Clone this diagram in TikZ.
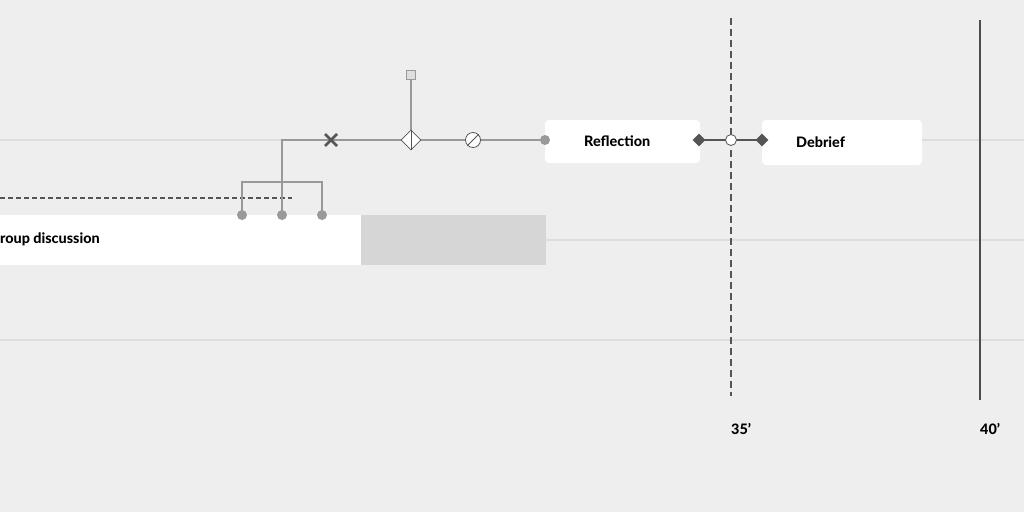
\documentclass[tikz,border=0pt]{standalone}
\usepackage{fontspec}
\setmainfont{Lato}[BoldFont={Lato Heavy}]
\usetikzlibrary{shapes.geometric}
\definecolor{bg}{HTML}{EEEEEE}
\definecolor{lane}{HTML}{DDDDDD}
\definecolor{wire}{HTML}{999999}
\definecolor{dark}{HTML}{555555}
\definecolor{boxgray}{HTML}{D6D6D6}
\tikzset{
  lanel/.style={draw=lane,line width=2.5pt},
  wirel/.style={draw=wire,line width=2pt},
  darkl/.style={draw=dark,line width=2pt},
  lbl/.style={font=\bfseries\fontsize{14.4}{16}\selectfont,inner sep=0pt,anchor=west},
  gdot/.style={circle,fill=wire,minimum size=10pt,inner sep=0pt},
  ddia/.style={diamond,fill=dark,minimum size=13pt,inner sep=0pt},
  ocirc/.style={circle,draw=dark,fill=white,line width=0.8pt,minimum size=11pt,inner sep=0pt},
}
\begin{document}
\begin{tikzpicture}[x=1pt,y=-1pt]
\clip (0,0) rectangle (1024,512);
\fill[bg] (0,0) rectangle (1024,512);
% lanes
\draw[lanel] (0,140) -- (1024,140);
\draw[lanel] (0,240) -- (1024,240);
\draw[lanel] (0,340) -- (1024,340);
% boxes
\fill[white] (-10,215) rectangle (361,265);
\fill[boxgray] (361,215) rectangle (546,265);
\node[lbl,anchor=east] (gd) at (100,239.5) {Group discussion};
\fill[white,rounded corners=4pt] (545,120) rectangle (700,163);
\node[lbl] (refl) at (584,141.5) {Reflection};
\fill[white,rounded corners=4pt] (762,120) rectangle (922,165);
\node[lbl] (debr) at (796,142.5) {Debrief};
% dashed line
\coordinate (ds0) at (0,198);
\coordinate (ds1) at (292,198);
\draw[dark,line width=1.8pt,dash pattern=on 5pt off 3pt] (ds0) -- (ds1);
% bracket
\node[gdot] (d1) at (242,215) {};
\node[gdot] (d2) at (282,215) {};
\node[gdot] (d3) at (322,215) {};
\coordinate (b1) at (242,182);
\coordinate (b3) at (322,182);
\draw[wirel] (d1.center) -- (b1) -- (b3) -- (d3.center);
\node[gdot] (rdot) at (545,140) {};
\coordinate (corner) at (282,140);
\draw[wirel] (d2.center) -- (corner) -- (rdot.center);
% x mark
\coordinate (xm) at (331,140);
\draw[dark,line width=2.8pt] ([shift={(-6,-6)}]xm) -- ([shift={(6,6)}]xm);
\draw[dark,line width=2.8pt] ([shift={(-6,6)}]xm) -- ([shift={(6,-6)}]xm);
% diamond with stem
\node[draw=wire,fill=boxgray!80,line width=0.8pt,minimum size=9pt,inner sep=0pt] (sq) at (411,75) {};
\draw[wirel] (sq.south) -- (411,130);
\node[diamond,draw=dark,fill=white,line width=0.8pt,minimum size=20pt,inner sep=0pt] (dia) at (411,140) {};
\draw[dark,line width=0.8pt] (dia.north) -- (dia.south);
% slashed circle
\node[circle,draw=dark,fill=white,line width=0.8pt,minimum size=15pt,inner sep=0pt] (sc) at (473,140) {};
\draw[dark,line width=0.8pt] (sc.south west) -- (sc.north east);
% connector reflection-debrief
\node[ddia] (da) at (699,140) {};
\node[ddia] (db) at (762,140) {};
\draw[darkl] (da.center) -- (db.center);
% time lines
\coordinate (t35a) at (731,18);
\coordinate (t35b) at (731,396);
\draw[dark,line width=1.8pt,dash pattern=on 7pt off 4pt] (t35a) -- (t35b);
\node[ocirc] (oc) at (731,140) {};
\coordinate (t40a) at (980,20);
\coordinate (t40b) at (980,400);
\draw[draw=dark!90!black,line width=2pt] (t40a) -- (t40b);
\node[lbl] (l35) at (731,429) {35’};
\node[lbl] (l40) at (980,429) {40’};
\end{tikzpicture}
\end{document}
